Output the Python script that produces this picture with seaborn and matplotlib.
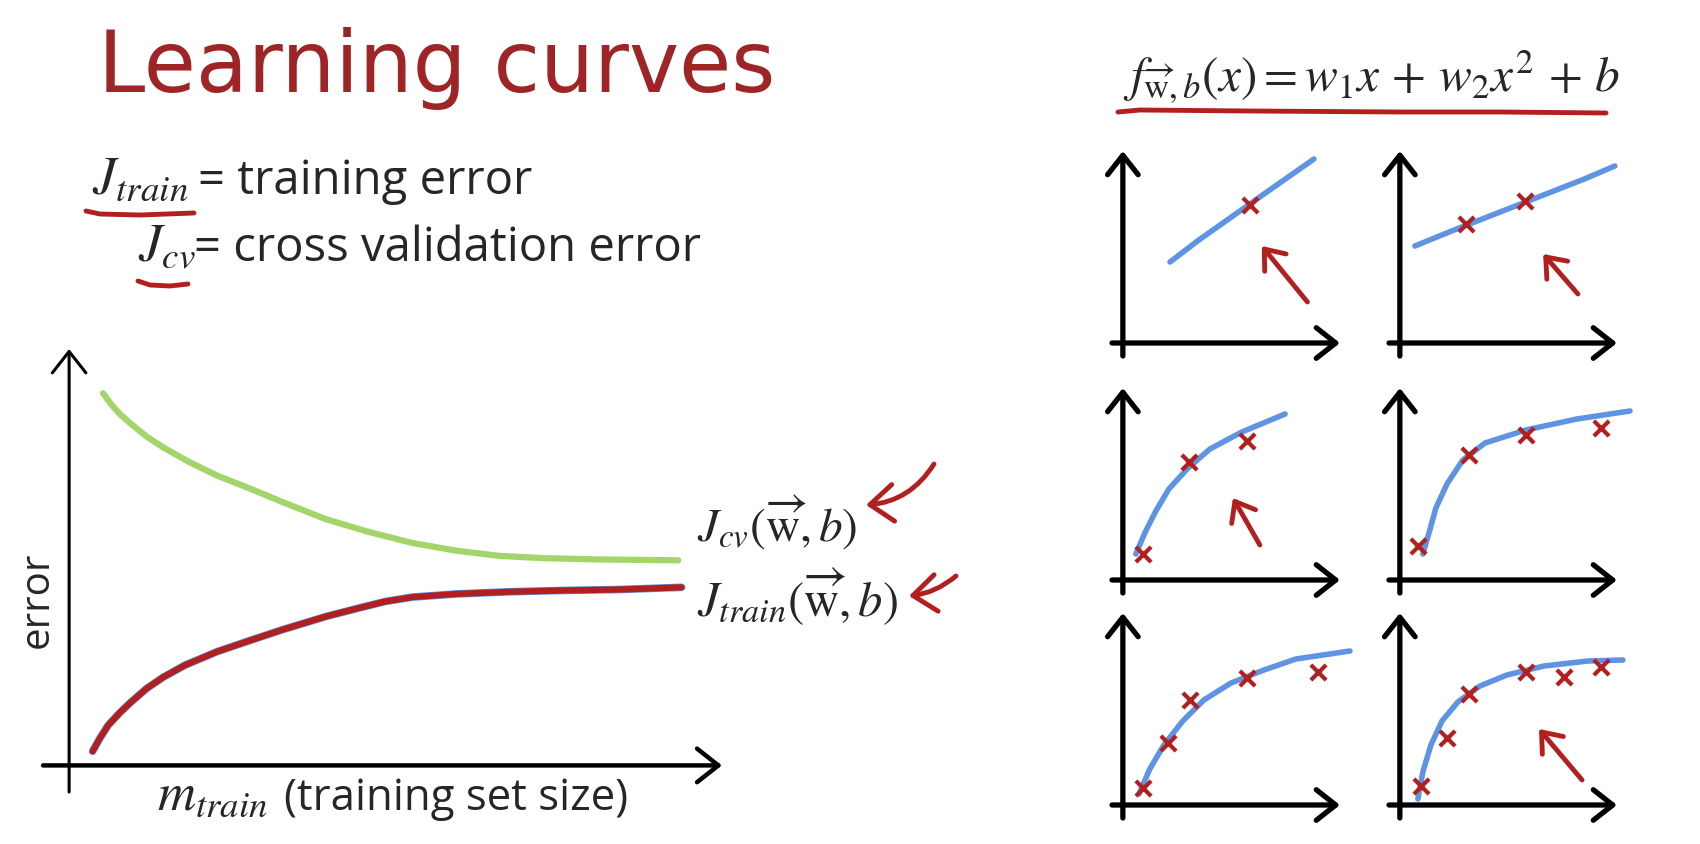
import numpy as np
import pandas as pd
import matplotlib.pyplot as plt
import seaborn as sns

W, H = 1700, 844

# main learning curve (arbitrary units)
m_train = [0.36, 0.47, 0.60, 0.77, 0.94, 1.19, 1.44, 1.77, 2.27, 2.77, 3.26, 3.93, 4.43, 4.84,
           5.26, 5.92, 6.75, 7.58, 8.41, 9.38]
j_train = [0.32, 0.61, 0.91, 1.18, 1.42, 1.74, 1.99, 2.26, 2.57, 2.82, 3.06, 3.36, 3.55, 3.70,
           3.80, 3.87, 3.92, 3.95, 3.97, 4.02]
m_cv = [0.52, 0.64, 0.77, 0.94, 1.19, 1.44, 1.85, 2.27, 2.77, 3.26, 3.93, 4.59, 5.26, 5.92,
        6.59, 7.25, 8.08, 9.33]
j_cv = [8.40, 8.16, 7.94, 7.72, 7.42, 7.18, 6.84, 6.54, 6.25, 5.95, 5.56, 5.27, 5.02, 4.85,
        4.73, 4.68, 4.65, 4.63]

# six small quadratic fits, training set grows 1..6 points
fit_x = [
    [2.17, 3.5, 5.0, 6.5, 8.8],
    [0.69, 2.5, 4.5, 6.5, 8.5, 9.9],
    [0.60, 1.01, 1.52, 2.12, 3.0, 4.01, 5.48, 7.47],
    [1.06, 1.34, 1.66, 2.17, 2.9, 3.92, 5.8, 8.15, 10.6],
    [0.74, 1.24, 1.89, 2.76, 3.73, 4.98, 6.5, 7.97, 10.46],
    [0.83, 1.06, 1.43, 1.94, 2.67, 3.69, 4.93, 6.64, 8.66, 10.27],
]
fit_y = [
    [4.05, 5.15, 6.3, 7.45, 9.2],
    [4.85, 5.65, 6.5, 7.35, 8.2, 8.85],
    [1.3, 2.35, 3.45, 4.55, 5.6, 6.55, 7.4, 8.3],
    [1.3, 2.35, 3.6, 4.8, 6.0, 6.85, 7.5, 8.05, 8.45],
    [0.55, 1.8, 3.0, 4.2, 5.25, 6.1, 6.75, 7.3, 7.7],
    [0.3, 1.65, 3.0, 4.2, 5.15, 5.95, 6.5, 6.95, 7.2, 7.25],
]
pts_x = [
    [5.85],
    [3.06, 5.78],
    [0.92, 3.04, 5.71],
    [0.83, 3.18, 5.8, 9.26],
    [0.92, 2.07, 3.09, 5.71, 8.99],
    [0.97, 2.16, 3.18, 5.8, 7.56, 9.26],
]
pts_y = [
    [6.9],
    [5.95, 7.1],
    [1.3, 5.9, 6.95],
    [1.7, 6.25, 7.25, 7.6],
    [0.85, 3.1, 5.25, 6.35, 6.65],
    [0.95, 3.35, 5.55, 6.65, 6.4, 6.9],
]
# red "look here" arrows in the small panels: (tail, tip)
hint_arrows = {
    0: ((8.5, 2.05), (6.4, 4.85)),
    1: ((8.2, 2.45), (6.6, 4.45)),
    2: ((6.31, 1.75), (5.07, 4.1)),
    5: ((8.39, 1.25), (6.41, 3.8)),
}

RED = '#b1201f'
TITLE = '#9e2426'
GREEN = '#a3d56b'
BLUE = '#5f93e3'
BODY = ['Open Sans', 'DejaVu Sans']

sns.set_style('white')
plt.rcParams['font.family'] = ['DejaVu Sans']
plt.rcParams['mathtext.fontset'] = 'stix'

fig = plt.figure(figsize=(W / 100, H / 100), dpi=100)
deco = fig.add_axes([0, 0, 1, 1])
deco.set_xlim(0, W)
deco.set_ylim(H, 0)
deco.axis('off')


def px_axes(left, top, width, height):
    ax = fig.add_axes([left / W, 1 - (top + height) / H, width / W, height / H])
    ax.patch.set_alpha(0)
    ax.axis('off')
    return ax


def arrow(ax, tail, tip, lw, color='black', scale=20, style='->,head_length=0.7,head_width=0.55', rad=0.0):
    ax.annotate('', xy=tip, xytext=tail, annotation_clip=False,
                arrowprops=dict(arrowstyle=style, lw=lw, color=color, shrinkA=0, shrinkB=0,
                                mutation_scale=scale, capstyle='round', joinstyle='round',
                                connectionstyle=f'arc3,rad={rad}'))


# ---- title and definitions ----
deco.text(98, 92, 'Learning curves', fontsize=61, color=TITLE, va='baseline')
deco.text(92, 194, r'$J_{train}$', fontsize=38, va='baseline')
deco.text(198, 194, '= training error', fontsize=34, family=BODY, va='baseline')
deco.text(138, 261, r'$J_{cv}$', fontsize=38, va='baseline')
deco.text(194, 261, '= cross validation error', fontsize=34, family=BODY, va='baseline')
deco.plot([86, 100, 140, 194], [211, 214, 215, 213], color=RED, lw=3.5, solid_capstyle='round')
deco.plot([138, 150, 170, 188], [281, 285, 286, 284], color=RED, lw=3.5, solid_capstyle='round')

# ---- main learning curve ----
ax = px_axes(43, 349, 679, 443)
ax.set_xlim(-0.4, 10)
ax.set_ylim(-0.6, 9.4)
sns.lineplot(x=m_cv, y=j_cv, ax=ax, color=GREEN, lw=4.5, sort=False, estimator=None)
sns.lineplot(x=m_train, y=j_train, ax=ax, color=BLUE, lw=5.5, sort=False, estimator=None)
sns.lineplot(x=m_train, y=j_train, ax=ax, color=RED, lw=4.5, sort=False, estimator=None)
for ln in ax.lines:
    ln.set_solid_joinstyle('round')
    ln.set_solid_capstyle('round')
arrow(ax, (-0.4, 0), (10, 0), lw=3.2, scale=22)
arrow(ax, (0, -0.6), (0, 9.4), lw=2.2, scale=22)

deco.text(38, 600, 'error', fontsize=29, rotation=90, ha='center', va='center', family=BODY)
deco.text(157, 810, r'$m_{train}$', fontsize=38, va='baseline')
deco.text(284, 810, '(training set size)', fontsize=31.5, family=BODY, va='baseline')

deco.text(697, 542, r'$J_{cv}(\overrightarrow{\mathrm{w}},b)$', fontsize=34, va='baseline')
deco.text(697, 616, r'$J_{train}(\overrightarrow{\mathrm{w}},b)$', fontsize=35, va='baseline')
arrow(deco, (934, 464), (866, 505), lw=3.5, color=RED, scale=24, rad=-0.25)
arrow(deco, (956, 576), (909, 596), lw=3.5, color=RED, scale=24, rad=-0.15)

# ---- model and the six small panels ----
deco.text(1123, 92, r'$f_{\overrightarrow{\mathrm{w}},b}(x) = w_1x\,+\,w_2x^2\,+\,b$',
          fontsize=35.5, va='baseline')
deco.plot([1118, 1140, 1250, 1400, 1500, 1606], [112, 110, 111, 112, 112, 113],
          color=RED, lw=3.5, solid_capstyle='round')

cols = [1123, 1400]
rows = [343, 580, 805]
for i in range(6):
    x0 = cols[i % 2]
    yb = rows[i // 2]
    sub = px_axes(x0 - 11, yb - 193, 228, 206)
    sub.set_xlim(-0.5, 10)
    sub.set_ylim(-0.65, 9.65)
    arrow(sub, (-0.5, 0), (10, 0), lw=3.8, scale=20)
    arrow(sub, (0, -0.65), (0, 9.6), lw=3.8, scale=20)
    sns.lineplot(x=fit_x[i], y=fit_y[i], ax=sub, color=BLUE, lw=4, sort=False, estimator=None)
    for ln in sub.lines:
        ln.set_clip_on(False)
        ln.set_solid_joinstyle('round')
        ln.set_solid_capstyle('round')
    sns.scatterplot(x=pts_x[i], y=pts_y[i], ax=sub, marker='x', s=120, color=RED,
                    linewidth=3, zorder=5, clip_on=False)
    if i in hint_arrows:
        tail, tip = hint_arrows[i]
        arrow(sub, tail, tip, lw=3.5, color=RED, scale=18)

fig.savefig('out.png', dpi=100)
